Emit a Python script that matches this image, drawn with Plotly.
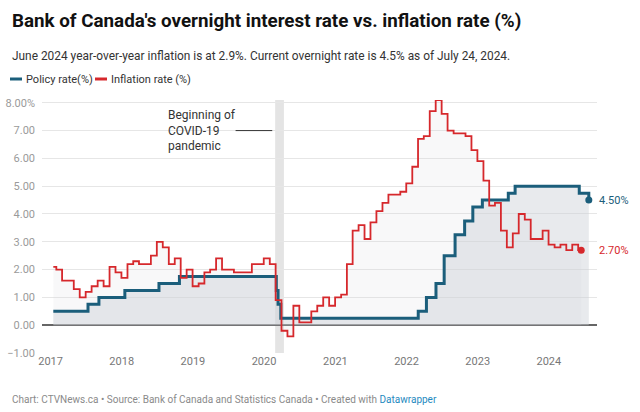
import plotly.graph_objects as go
import pandas as pd

# ---- Data ----
cpi_start = "2017-01-01"
cpi_values = [
    2.1, 2.0, 1.6, 1.6, 1.3, 1.0, 1.2, 1.4, 1.6, 1.4, 2.1, 1.9,   # 2017
    1.7, 2.2, 2.3, 2.2, 2.2, 2.5, 3.0, 2.8, 2.2, 2.4, 1.7, 2.0,   # 2018
    1.4, 1.5, 1.9, 2.0, 2.4, 2.0, 2.0, 1.9, 1.9, 1.9, 2.2, 2.2,   # 2019
    2.4, 2.2, 0.9, -0.2, -0.4, 0.7, 0.1, 0.1, 0.5, 0.7, 1.0, 0.7, # 2020
    1.0, 1.1, 2.2, 3.4, 3.6, 3.1, 3.7, 4.1, 4.4, 4.7, 4.7, 4.8,   # 2021
    5.1, 5.7, 6.7, 6.8, 7.7, 8.1, 7.6, 7.0, 6.9, 6.9, 6.8, 6.3,   # 2022
    5.9, 5.2, 4.3, 4.4, 3.4, 2.8, 3.3, 4.0, 3.8, 3.1, 3.1, 3.4,   # 2023
    2.9, 2.8, 2.9, 2.7, 2.9, 2.7,                                 # 2024
]
cpi_dates = pd.date_range(cpi_start, periods=len(cpi_values), freq="MS") + pd.Timedelta(days=14)

policy_dates = [
    "2017-01-15", "2017-07-12", "2017-09-06", "2018-01-17", "2018-07-11",
    "2018-10-24", "2020-03-04", "2020-03-13", "2020-03-27", "2022-03-02",
    "2022-04-13", "2022-06-01", "2022-07-13", "2022-09-07", "2022-10-26",
    "2022-12-07", "2023-01-25", "2023-06-07", "2023-07-12", "2024-06-05",
    "2024-07-24",
]
policy_values = [
    0.50, 0.75, 1.00, 1.25, 1.50,
    1.75, 1.25, 0.75, 0.25, 0.50,
    1.00, 1.50, 2.50, 3.25, 3.75,
    4.25, 4.50, 4.75, 5.00, 4.75,
    4.50,
]

year_ticks = ["2017", "2018", "2019", "2020", "2021", "2022", "2023", "2024"]
y_ticks = [-1, 0, 1, 2, 3, 4, 5, 6, 7, 8]
y_ticktext = ["\u22121.00", "0.00", "1.00", "2.00", "3.00", "4.00", "5.00", "6.00", "7.00", "8.00%"]

BLUE = "#1b5e7b"
RED = "#d6282c"
FONT = "Roboto"

# plot area in pixels
L, R, T, B = 42, 597, 100, 353


def px(x):
    return (x - L) / (R - L)


def py(y):
    return (B - y) / (B - T)


fig = go.Figure()

# pandemic band
fig.add_shape(type="rect", xref="x", yref="paper", x0="2020-02-27", x1="2020-04-12",
              y0=0, y1=1, fillcolor="#e4e4e4", line_width=0, layer="below")

# fills
fig.add_trace(go.Scatter(x=cpi_dates, y=cpi_values, mode="lines", line=dict(width=0, shape="hvh"),
                         fill="tozeroy", fillcolor="rgba(215,218,224,0.18)", hoverinfo="skip",
                         showlegend=False))
fig.add_trace(go.Scatter(x=policy_dates, y=policy_values, mode="lines", line=dict(width=0, shape="hv"),
                         fill="tozeroy", fillcolor="rgba(205,209,216,0.45)", hoverinfo="skip",
                         showlegend=False))

# lines
fig.add_trace(go.Scatter(x=policy_dates, y=policy_values, mode="lines",
                         line=dict(color=BLUE, width=3, shape="hv"), name="Policy rate(%)",
                         showlegend=False))
fig.add_trace(go.Scatter(x=cpi_dates, y=cpi_values, mode="lines",
                         line=dict(color=RED, width=1.8, shape="hvh"), name="Inflation rate (%)",
                         showlegend=False))

# end dots
fig.add_trace(go.Scatter(x=[policy_dates[-1]], y=[policy_values[-1]], mode="markers",
                         marker=dict(color=BLUE, size=7), showlegend=False))
fig.add_trace(go.Scatter(x=[cpi_dates[-1]], y=[cpi_values[-1]], mode="markers",
                         marker=dict(color=RED, size=7), showlegend=False))

annotations = []
# end labels
annotations.append(dict(xref="paper", yref="y", x=1.0, y=policy_values[-1], xanchor="left",
                        yanchor="middle", text=f"{policy_values[-1]:.2f}%", showarrow=False,
                        font=dict(family=FONT, size=11, color=BLUE), xshift=0))
annotations.append(dict(xref="paper", yref="y", x=1.0, y=cpi_values[-1], xanchor="left",
                        yanchor="middle", text=f"{cpi_values[-1]:.2f}%", showarrow=False,
                        font=dict(family=FONT, size=11, color=RED), xshift=0))

# COVID annotation
annotations.append(dict(xref="x", yref="y", x="2018-08-15", y=7.0, xanchor="left", yanchor="middle",
                        align="left", text="Beginning of<br>COVID-19<br>pandemic", showarrow=False,
                        font=dict(family=FONT, size=12, color="#333333")))
fig.add_shape(type="line", xref="x", yref="y", x0="2019-08-08", x1="2020-02-12", y0=7.0, y1=7.0,
              line=dict(color="#333333", width=1))

# title, subtitle
annotations.append(dict(xref="paper", yref="paper", x=px(10), y=py(21), xanchor="left", yanchor="middle",
                        text="Bank of Canada's overnight interest rate vs. inflation rate (%)",
                        showarrow=False, font=dict(family=FONT, size=18.8, color="#111111", weight=700)))
annotations.append(dict(xref="paper", yref="paper", x=px(10), y=py(56), xanchor="left", yanchor="middle",
                        text="June 2024 year-over-year inflation is at 2.9%. Current overnight rate is 4.5% as of July 24, 2024.",
                        showarrow=False, font=dict(family=FONT, size=11.9, color="#333333")))

# legend
fig.add_shape(type="line", xref="paper", yref="paper", x0=px(10), x1=px(22), y0=py(79), y1=py(79),
              line=dict(color=BLUE, width=3))
annotations.append(dict(xref="paper", yref="paper", x=px(24), y=py(79), xanchor="left", yanchor="middle",
                        text="Policy rate(%)", showarrow=False, font=dict(family=FONT, size=11, color="#333333")))
fig.add_shape(type="line", xref="paper", yref="paper", x0=px(95), x1=px(107), y0=py(79), y1=py(79),
              line=dict(color=RED, width=3))
annotations.append(dict(xref="paper", yref="paper", x=px(109), y=py(79), xanchor="left", yanchor="middle",
                        text="Inflation rate (%)", showarrow=False, font=dict(family=FONT, size=11, color="#333333")))

# footer
annotations.append(dict(xref="paper", yref="paper", x=px(10), y=py(399), xanchor="left", yanchor="middle",
                        text="Chart: CTVNews.ca \u2022 Source: Bank of Canada and Statistics Canada \u2022 Created with "
                             "<span style='color:#1f8ac0'>Datawrapper</span>",
                        showarrow=False, font=dict(family=FONT, size=10, color="#8a8a8a")))

fig.update_layout(
    width=640, height=412,
    margin=dict(l=L, r=640 - R, t=T, b=412 - B, pad=0, autoexpand=False),
    paper_bgcolor="white", plot_bgcolor="white",
    annotations=annotations,
    font=dict(family=FONT),
    showlegend=False,
    hovermode=False,
)
fig.update_xaxes(
    type="date", range=["2016-11-18", "2024-09-04"], automargin=False,
    tickvals=[f"{y}-01-01" for y in year_ticks], ticktext=year_ticks,
    showgrid=False, zeroline=False, showline=False, ticks="",
    tickfont=dict(family=FONT, size=11, color="#777777"),
)
fig.update_yaxes(
    range=[-1, 8.1], tickvals=y_ticks, ticktext=y_ticktext, automargin=False,
    showgrid=True, gridcolor="#e6e6e6", gridwidth=1,
    zeroline=True, zerolinecolor="#666666", zerolinewidth=1.5,
    showline=False, ticks="", ticklabelstandoff=6,
    tickfont=dict(family=FONT, size=11, color="#9a9a9a"),
)

fig.write_html("out.html", config={"displayModeBar": False, "staticPlot": True},
               post_script="document.body.style.margin='0';document.body.style.overflow='hidden';")
